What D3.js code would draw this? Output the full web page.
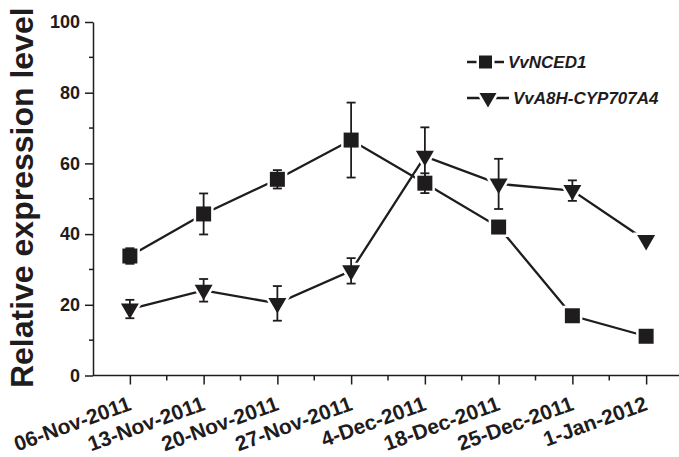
<!DOCTYPE html>
<html>
<head>
<meta charset="utf-8">
<script src="https://cdn.jsdelivr.net/npm/d3@7"></script>
<style>
  html, body { margin: 0; padding: 0; background: #fff; }
  svg { display: block; font-family: "Liberation Sans", Arial, sans-serif; }
</style>
</head>
<body>
<svg id="chart" width="679" height="457"></svg>
<script>
// Sampling dates
const dates = ["06-Nov-2011", "13-Nov-2011", "20-Nov-2011", "27-Nov-2011",
               "4-Dec-2011", "18-Dec-2011", "25-Dec-2011", "1-Jan-2012"];

// VvNCED1 mean and error
const ncedMean = [33.8, 45.7, 55.5, 66.6, 54.4, 42.0, 16.9, 11.1];
const ncedErr  = [2.2, 5.8, 2.6, 10.6, 2.8, 0, 0, 0];

// VvA8H-CYP707A4 mean and error
const cypMean = [18.8, 24.1, 20.4, 29.6, 62.0, 54.2, 52.3, 38.2];
const cypErr  = [2.6, 3.2, 4.9, 3.6, 8.2, 7.1, 2.9, 0];

const yTicks = [0, 20, 40, 60, 80, 100];
const yMinorTicks = [10, 30, 50, 70, 90];

const ink = "#1f1c1d";
const svg = d3.select("#chart");

const x = d3.scaleLinear().domain([-0.5, 7.5]).range([93, 683]);
const y = d3.scaleLinear().domain([0, 100]).range([375.5, 22]);

// Marker shapes
const squarePath = s => `M${-s/2},${-s/2}H${s/2}V${s/2}H${-s/2}Z`;
const triPath = (w, up, down) => `M${-w/2},${-up}L${w/2},${-up}L0,${down}Z`;

// Axes
const yAxis = d3.axisLeft(y).tickValues(yTicks).tickSize(8).tickSizeOuter(0).tickPadding(5);
const gy = svg.append("g").attr("transform", `translate(${x(-0.5)},0)`).call(yAxis);
gy.selectAll(".tick text").attr("font-size", 18).attr("font-weight", "bold").attr("fill", ink);
gy.selectAll(".tick line, .domain").attr("stroke", ink).attr("stroke-width", 1.5);
gy.selectAll(".minor").data(yMinorTicks).enter().append("line")
  .attr("x1", 0).attr("x2", -4).attr("y1", d => y(d)).attr("y2", d => y(d))
  .attr("stroke", ink).attr("stroke-width", 1.5);

const xAxis = d3.axisBottom(x).tickValues(d3.range(dates.length))
  .tickFormat(i => dates[i]).tickSize(9).tickSizeOuter(0);
const gx = svg.append("g").attr("transform", `translate(0,${y(0)})`).call(xAxis);
gx.select(".domain").attr("d", `M${x(-0.5)},0H679`);
gx.selectAll(".tick line, .domain").attr("stroke", ink).attr("stroke-width", 1.5);
gx.selectAll(".tick text")
  .attr("font-size", 21).attr("font-weight", "bold").attr("fill", ink)
  .attr("text-anchor", "end")
  .attr("dy", null)
  .attr("y", null)
  .attr("transform", "translate(2,34) rotate(-20)");
gx.selectAll(".minor").data(d3.range(dates.length - 1).map(i => i + 0.5)).enter().append("line")
  .attr("x1", d => x(d)).attr("x2", d => x(d)).attr("y1", 0).attr("y2", 5)
  .attr("stroke", ink).attr("stroke-width", 1.5);

// Axis title
svg.append("text")
  .attr("transform", `translate(33,${(y(0) + y(100)) / 2 - 1}) rotate(-90)`)
  .attr("text-anchor", "middle")
  .attr("font-size", 32).attr("font-weight", "bold").attr("fill", ink)
  .text("Relative expression level");

// Series
const series = [
  { mean: ncedMean, err: ncedErr, shape: squarePath(15) },
  { mean: cypMean, err: cypErr, shape: triPath(18, 5.5, 10) }
];

const line = d3.line().x((d, i) => x(i)).y(d => y(d));

series.forEach(s => {
  svg.append("path").attr("d", line(s.mean))
    .attr("fill", "none").attr("stroke", ink).attr("stroke-width", 2.3);
});

series.forEach(s => {
  const g = svg.append("g");
  g.selectAll("path").data(s.mean).enter().append("path")
    .attr("d", s.shape)
    .attr("transform", (d, i) => `translate(${x(i)},${y(d)})`)
    .attr("fill", ink).attr("stroke", "#fff").attr("stroke-width", 5)
    .attr("paint-order", "stroke");
});

series.forEach(s => {
  const g = svg.append("g").attr("stroke", ink).attr("stroke-width", 1.8);
  s.mean.forEach((m, i) => {
    const e = s.err[i];
    if (!e) return;
    const cx = x(i);
    g.append("line").attr("x1", cx).attr("x2", cx).attr("y1", y(m - e)).attr("y2", y(m + e));
    [m - e, m + e].forEach(v => {
      g.append("line").attr("x1", cx - 4.5).attr("x2", cx + 4.5).attr("y1", y(v)).attr("y2", y(v));
    });
  });
});

// Legend
const legend = [
  { name: "VvNCED1", shape: squarePath(13), y: 62, lx: [467, 504], mx: 485.5, tx: 508 },
  { name: "VvA8H-CYP707A4", shape: triPath(17, 5, 9.5), y: 98, lx: [467, 509], mx: 488, tx: 513 }
];
legend.forEach(l => {
  svg.append("line").attr("x1", l.lx[0]).attr("x2", l.lx[1]).attr("y1", l.y).attr("y2", l.y)
    .attr("stroke", ink).attr("stroke-width", 2.3);
  svg.append("path").attr("d", l.shape).attr("transform", `translate(${l.mx},${l.y})`)
    .attr("fill", ink).attr("stroke", "#fff").attr("stroke-width", 5).attr("paint-order", "stroke");
  svg.append("text").attr("x", l.tx).attr("y", l.y + 6)
    .attr("font-size", 17).attr("font-weight", "bold").attr("font-style", "italic").attr("fill", ink)
    .text(l.name);
});
</script>
</body>
</html>
